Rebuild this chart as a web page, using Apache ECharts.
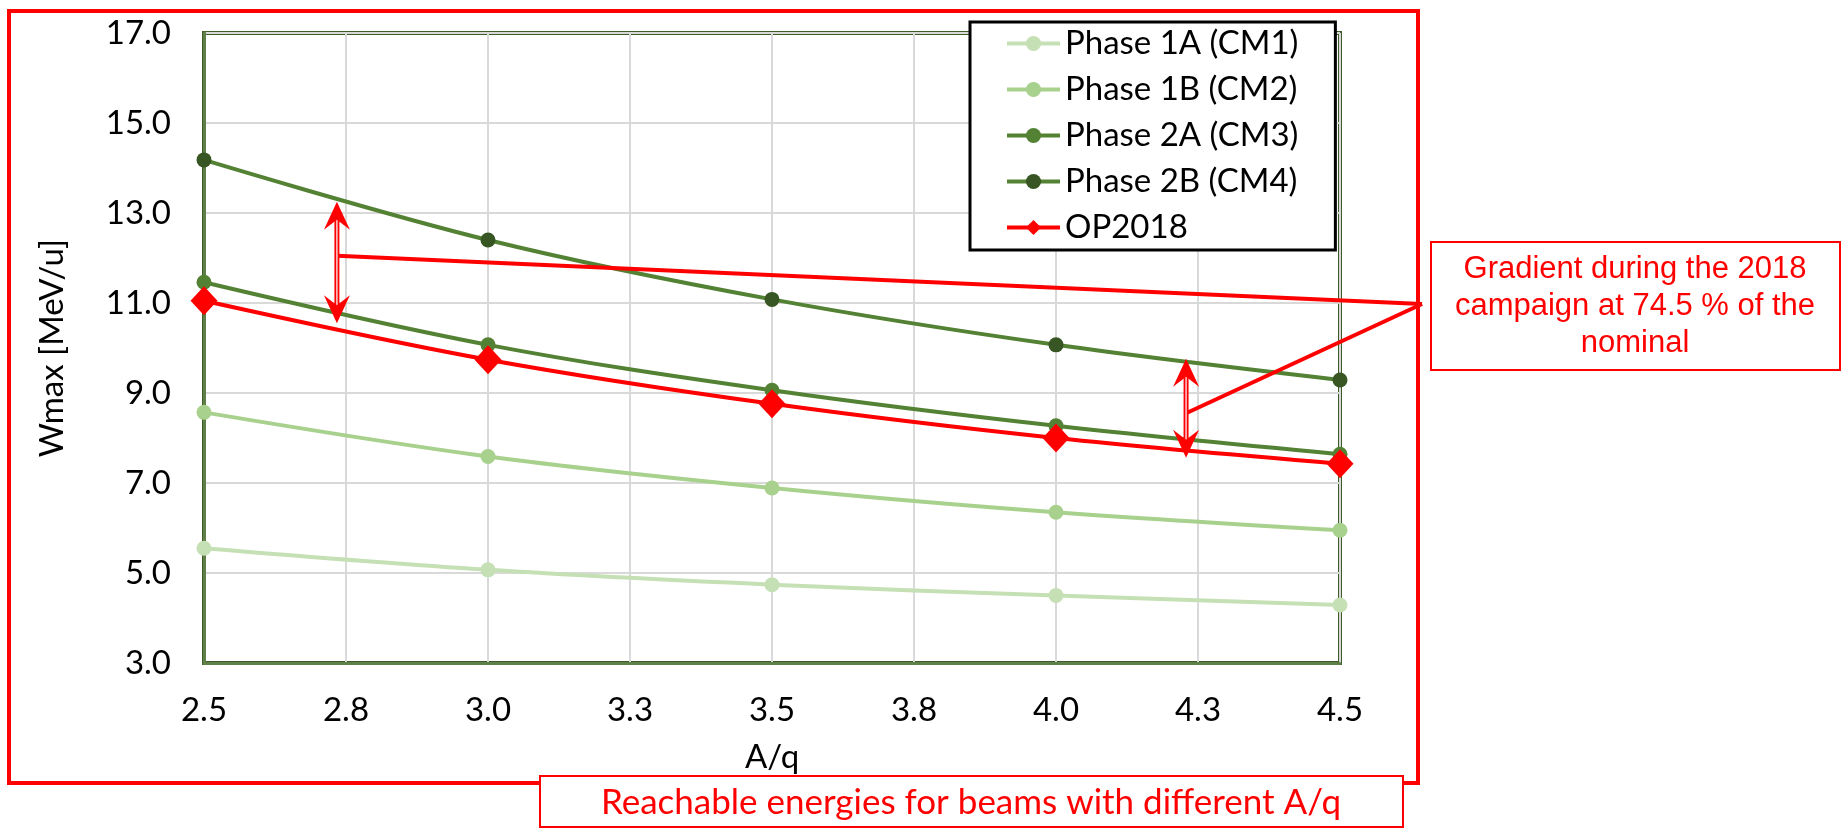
<!DOCTYPE html>
<html>
<head>
<meta charset="utf-8">
<script src="https://cdn.jsdelivr.net/npm/echarts@6/dist/echarts.min.js"></script>
<style>
  html, body { margin: 0; padding: 0; background: #ffffff; }
  #chart { width: 1845px; height: 829px; }
</style>
</head>
<body>
<div id="chart"></div>
<script>
// ---- data ----
const aOverQ = [2.5, 3.0, 3.5, 4.0, 4.5];
const phase1A = [5.55, 5.07, 4.74, 4.50, 4.29];
const phase1B = [8.57, 7.59, 6.89, 6.35, 5.95];
const phase2A = [11.46, 10.07, 9.06, 8.27, 7.64];
const phase2B = [14.18, 12.40, 11.08, 10.07, 9.29];
const op2018 = [11.05, 9.74, 8.76, 8.00, 7.43];
const seriesNames = ['Phase 1A (CM1)', 'Phase 1B (CM2)', 'Phase 2A (CM3)', 'Phase 2B (CM4)', 'OP2018'];
const xTickLabels = ['2.5', '2.8', '3.0', '3.3', '3.5', '3.8', '4.0', '4.3', '4.5'];
const yTickLabels = ['3.0', '5.0', '7.0', '9.0', '11.0', '13.0', '15.0', '17.0'];
const annotationText = 'Gradient during the 2018\ncampaign at 74.5 % of the\nnominal';
const captionText = 'Reachable energies for beams with different A/q';

const pairs = v => aOverQ.map((x, i) => [x, v[i]]);
const FONT = 'Lato';

const chart = echarts.init(document.getElementById('chart'), null, { renderer: 'canvas' });

function lineSeries(name, values, lineColor, markerColor, symbol, symbolSize, z) {
  return {
    name: name,
    type: 'line',
    data: pairs(values),
    smooth: 0.35,
    symbol: symbol,
    symbolSize: symbolSize,
    showSymbol: true,
    z: z,
    lineStyle: { color: lineColor, width: 4 },
    itemStyle: { color: markerColor, borderWidth: 0 },
    emphasis: { disabled: true }
  };
}

const option = {
  animation: false,
  backgroundColor: '#ffffff',
  textStyle: { fontFamily: FONT },
  grid: {
    left: 204, right: 505, top: 33, bottom: 166,
    show: true,
    borderColor: '#3d5c28',
    borderWidth: 4,
    backgroundColor: 'transparent'
  },
  legend: {
    orient: 'vertical',
    left: 970,
    top: 22,
    data: seriesNames,
    itemWidth: 53,
    itemHeight: 19,
    itemGap: 13,
    padding: [5, 37, 6, 35],
    borderColor: '#000000',
    borderWidth: 3,
    backgroundColor: '#ffffff',
    lineStyle: { width: 4 },
    textStyle: { fontFamily: FONT, fontSize: 33, color: '#000000' },
    selectedMode: false
  },
  xAxis: {
    type: 'value',
    min: 2.5,
    max: 4.5,
    interval: 0.25,
    name: 'A/q',
    nameLocation: 'middle',
    nameGap: 78,
    nameTextStyle: { fontFamily: FONT, fontSize: 33, color: '#000000' },
    axisLine: { show: true, onZero: false, lineStyle: { color: '#5e7f48', width: 3 } },
    axisTick: { show: false },
    splitLine: { show: true, lineStyle: { color: '#d9d9d9', width: 2 } },
    axisLabel: {
      fontFamily: FONT, fontSize: 33, color: '#000000', margin: 31,
      formatter: (v) => xTickLabels[Math.round((v - 2.5) / 0.25)]
    }
  },
  yAxis: {
    type: 'value',
    min: 3,
    max: 17,
    interval: 2,
    name: 'Wmax [MeV/u]',
    nameLocation: 'middle',
    nameRotate: 90,
    nameGap: 135,
    nameTextStyle: { fontFamily: FONT, fontSize: 33, color: '#000000' },
    axisLine: { show: true, onZero: false, lineStyle: { color: '#5e7f48', width: 3 } },
    axisTick: { show: false },
    splitLine: { show: true, lineStyle: { color: '#d9d9d9', width: 2 } },
    axisLabel: {
      fontFamily: FONT, fontSize: 33, color: '#000000', margin: 33,
      formatter: (v) => yTickLabels[Math.round((v - 3) / 2)]
    }
  },
  series: [
    lineSeries(seriesNames[0], phase1A, '#c5e0b4', '#c5e0b4', 'circle', 15, 2),
    lineSeries(seriesNames[1], phase1B, '#a9d18e', '#a9d18e', 'circle', 15, 3),
    lineSeries(seriesNames[2], phase2A, '#548235', '#548235', 'circle', 15, 4),
    lineSeries(seriesNames[3], phase2B, '#548235', '#375623', 'circle', 15, 5),
    lineSeries(seriesNames[4], op2018, '#ff0000', '#ff0000', 'diamond', [27, 29], 6)
  ]
};
chart.setOption(option);

// ---- annotations (arrows and callout) ----
const arrow1 = { x: 2.734, top: 13.25, bottom: 10.55 };
const arrow2 = { x: 4.229, top: 9.76, bottom: 7.56 };
const calloutPoint = [1422, 304];

function arrowGraphics(a) {
  const p1 = chart.convertToPixel({ gridIndex: 0 }, [a.x, a.top]);
  const p2 = chart.convertToPixel({ gridIndex: 0 }, [a.x, a.bottom]);
  const x = p1[0], yT = p1[1], yB = p2[1];
  const hw = 13, hl = 28, notch = 18;
  return [
    { type: 'line', z: 50, shape: { x1: x, y1: yT + notch, x2: x, y2: yB - notch },
      style: { stroke: '#ff0000', lineWidth: 5 } },
    { type: 'line', z: 51, shape: { x1: x, y1: yT + notch, x2: x, y2: yB - notch },
      style: { stroke: '#ffffff', lineWidth: 1.2 } },
    { type: 'polygon', z: 52, shape: { points: [[x, yT], [x - hw, yT + hl], [x, yT + notch], [x + hw, yT + hl]] },
      style: { fill: '#ff0000' } },
    { type: 'polygon', z: 52, shape: { points: [[x, yB], [x - hw, yB - hl], [x, yB - notch], [x + hw, yB - hl]] },
      style: { fill: '#ff0000' } }
  ];
}

const a1mid = chart.convertToPixel({ gridIndex: 0 }, [arrow1.x, 12.05]);
const a2mid = chart.convertToPixel({ gridIndex: 0 }, [arrow2.x, 8.55]);

const graphics = [
  // outer red frame
  { type: 'rect', z: 1, shape: { x: 9, y: 11, width: 1409, height: 772 },
    style: { fill: 'none', stroke: '#ff0000', lineWidth: 4 } },
  // callout lines
  { type: 'line', z: 45, shape: { x1: calloutPoint[0], y1: calloutPoint[1], x2: a1mid[0], y2: a1mid[1] },
    style: { stroke: '#ff0000', lineWidth: 4 } },
  { type: 'line', z: 45, shape: { x1: calloutPoint[0], y1: calloutPoint[1], x2: a2mid[0], y2: a2mid[1] },
    style: { stroke: '#ff0000', lineWidth: 4 } },
  ...arrowGraphics(arrow1),
  ...arrowGraphics(arrow2),
  // annotation box
  { type: 'rect', z: 60, shape: { x: 1431, y: 242, width: 409, height: 128 },
    style: { fill: '#ffffff', stroke: '#ff0000', lineWidth: 2 } },
  { type: 'text', z: 61, x: 1635, y: 306,
    style: { text: annotationText, fill: '#ff0000', font: '31px "Liberation Sans", Arial, sans-serif',
      align: 'center', verticalAlign: 'middle', lineHeight: 37 } },
  // caption box
  { type: 'rect', z: 60, shape: { x: 540, y: 776, width: 863, height: 51 },
    style: { fill: '#ffffff', stroke: '#ff0000', lineWidth: 2 } },
  { type: 'text', z: 61, x: 971, y: 803,
    style: { text: captionText, fill: '#ff0000', font: '35px Lato, sans-serif',
      align: 'center', verticalAlign: 'middle' } }
];
chart.setOption({ graphic: graphics });
</script>
</body>
</html>
